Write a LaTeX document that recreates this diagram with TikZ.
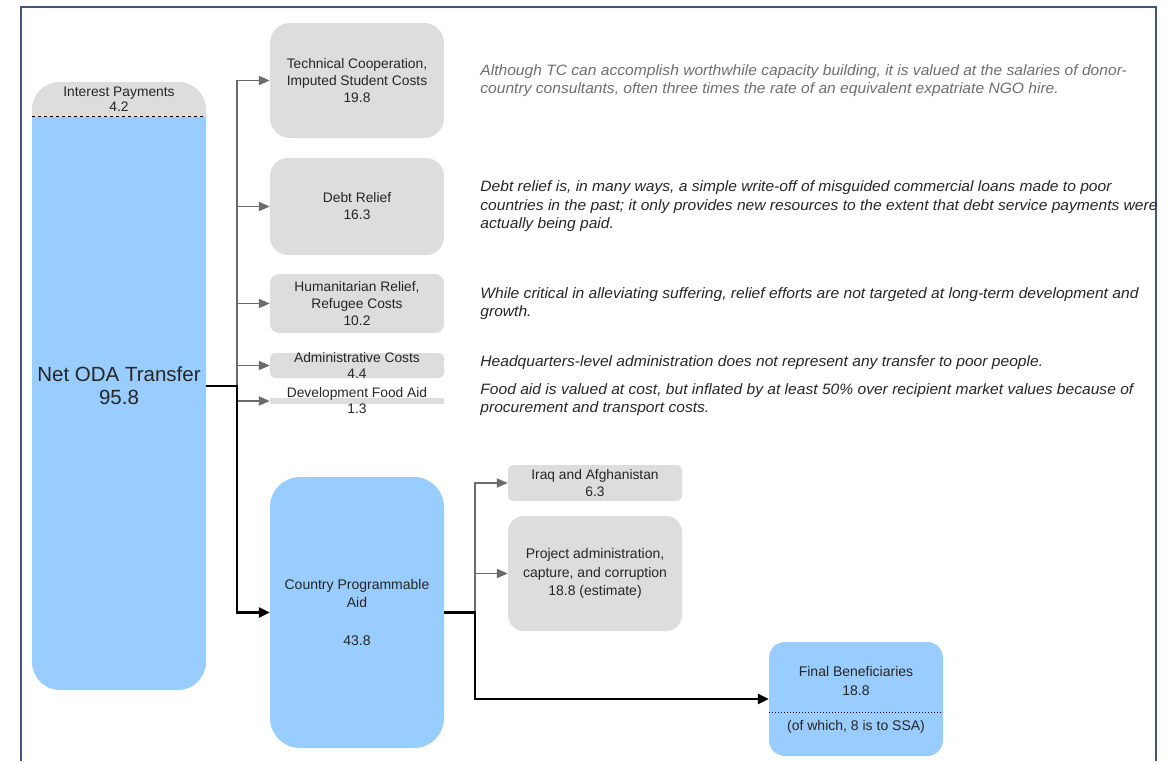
\documentclass[tikz,border=0pt]{standalone}
\usepackage{fontspec}
\setmainfont{Liberation Sans}
\newfontfamily\notefont[FakeStretch=1.04]{Liberation Sans}
\usepackage{xcolor}
\usetikzlibrary{positioning,arrows.meta}
\definecolor{odablue}{HTML}{99CCFF}
\definecolor{boxgrey}{HTML}{DDDDDD}
\definecolor{linegrey}{HTML}{6B6B6B}
\definecolor{framecol}{HTML}{41557F}
\definecolor{notegrey}{HTML}{6E6E6E}

\begin{document}
\begin{tikzpicture}[
x=1pt, y=-1pt,
node distance=36pt,
every node/.style={
    align=center,
    text=black!85,
    font=\fontsize{13.8}{17}\selectfont
},
greybox/.style={fill=boxgrey, minimum width=174pt, inner sep=0pt},
bluebox/.style={fill=odablue, minimum width=174pt, inner sep=0pt},
note/.style={anchor=west, align=left, inner sep=0pt,
    font=\notefont\itshape\fontsize{15}{18.5}\selectfont},
subarrow/.style={-{Triangle[length=11pt,width=9pt]}, linegrey, line width=1.8pt},
mainarrow/.style={-{Triangle[length=11pt,width=10pt]}, black, line width=2.4pt}
]
\useasboundingbox (0,0) rectangle (1172,761);

% frame
\draw[framecol, line width=2pt] (21,761) |- (1156,7) -- (1156,761);

% net ODA column
\node[bluebox, rounded corners=28pt, minimum height=608pt,
      font=\fontsize{20.5}{23}\selectfont] (oda) at (119,386) {Net ODA Transfer\\95.8};
\begin{scope}
\clip (32,82) rectangle (206,116);
\fill[boxgrey, rounded corners=28pt] (32,82) rectangle (206,690);
\end{scope}
\draw[dashed, line width=1pt] (32,116) -- (206,116);
\node[font=\fontsize{13.8}{15}\selectfont] (interest) at (119,99) {Interest Payments\\4.2};

% deductions
\node[greybox, rounded corners=20pt, minimum height=115pt] (tc) at (357,80.5) {
Technical Cooperation,\\
Imputed Student Costs\\
19.8
};
\node[greybox, rounded corners=18pt, minimum height=97pt] (debt) at (357,206.5) {
Debt Relief\\
16.3
};
\node[greybox, rounded corners=9pt, minimum height=59pt] (hum) at (357,303.5) {
Humanitarian Relief,\\
Refugee Costs\\
10.2
};
\node[greybox, rounded corners=5pt, minimum height=25pt] (admin) at (357,365.5) {};
\node[font=\fontsize{13.8}{16}\selectfont] (adminlbl) at (admin) {Administrative Costs\\4.4};
\node[greybox, minimum height=6pt] (food) at (357,401) {};
\node[font=\fontsize{13.8}{16}\selectfont] (foodlbl) at (food) {Development Food Aid\\1.3};

% country programmable aid
\node[bluebox, rounded corners=30pt, minimum height=271pt,
      font=\fontsize{14}{18}\selectfont] (cpa) at (357,612.5) {
Country Programmable\\
Aid\\[20pt]
43.8
};
\node[greybox, rounded corners=5pt, minimum height=36pt] (iraq) at (595,483) {
Iraq and Afghanistan\\
6.3
};
\node[greybox, rounded corners=16pt, minimum height=115pt,
      font=\fontsize{14}{18.5}\selectfont] (proj) at (595,573.5) {
Project administration,\\
capture, and corruption\\
18.8 (estimate)
};
\node[bluebox, rounded corners=16pt, minimum height=114pt] (final) at (856,699) {};
\node[font=\fontsize{14}{19}\selectfont] (finaltop) at (856,681) {Final Beneficiaries\\18.8};
\draw[dotted, line width=1pt] (769,712) -- (943,712);
\node[font=\fontsize{14}{19}\selectfont] (ssa) at (856,727) {(of which, 8 is to SSA)};

% notes
\node[note, text=notegrey, right=36pt of tc] (tcnote) {
Although TC can accomplish worthwhile capacity building, it is valued at the salaries of donor-\\
country consultants, often three times the rate of an equivalent expatriate NGO hire.
};
\node[note, right=36pt of debt] (debtnote) {
Debt relief is, in many ways, a simple write-off of misguided commercial loans made to poor\\
countries in the past; it only provides new resources to the extent that debt service payments were\\
actually being paid.
};
\node[note, right=36pt of hum] (humnote) {
While critical in alleviating suffering, relief efforts are not targeted at long-term development and\\
growth.
};
\node[note, right=36pt of admin, yshift=3pt] (adminnote) {
Headquarters-level administration does not represent any transfer to poor people.
};
\node[note, right=36pt of food, yshift=1.5pt] (foodnote) {
Food aid is valued at cost, but inflated by at least 50\% over recipient market values because of\\
procurement and transport costs.
};

% flows
\coordinate (split) at ([xshift=31pt]oda.east);
\foreach \n in {tc,debt,hum,admin,food}
    \draw[subarrow] (split) |- (\n.west);
\draw[mainarrow] (oda.east) -- (split) |- (cpa.west);

\coordinate (split2) at ([xshift=31pt]cpa.east);
\foreach \n in {iraq,proj}
    \draw[subarrow] (split2) |- (\n.west);
\draw[mainarrow] (cpa.east) -- (split2) |- (final.west);

\end{tikzpicture}
\end{document}
